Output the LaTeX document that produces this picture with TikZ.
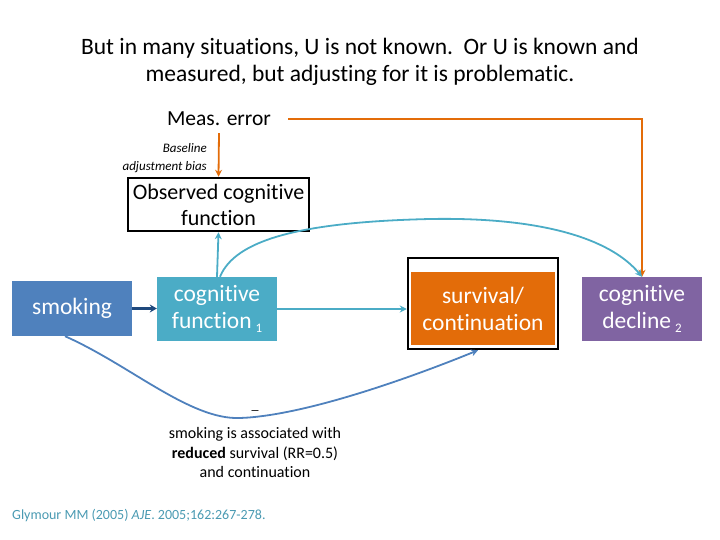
\documentclass[tikz,border=0pt]{standalone}
\usepackage{fontspec}
\setmainfont{Carlito}[Ligatures=NoCommon]
\usetikzlibrary{arrows.meta}
\definecolor{smokeblue}{HTML}{4F81BD}
\definecolor{teal1}{HTML}{4BACC6}
\definecolor{orng}{HTML}{E36C09}
\definecolor{purp}{HTML}{8064A2}
\definecolor{darkblue}{HTML}{1F497D}
\definecolor{cite}{HTML}{4A9AB2}
\tikzset{
  fillbox/.style={text=white, inner sep=0pt, align=center, font=\fontsize{23.5}{27}\selectfont},
  tip/.style={-{Stealth[length=7pt,width=7pt]}},
}
\begin{document}
\begin{tikzpicture}[x=1pt,y=-1pt]
\useasboundingbox (0,0) rectangle (720,540);
\node[align=center, font=\fontsize{23.5}{27}\selectfont] (title) at (360,62) {But in many situations, U is not known.\ \ Or U is known and\\ measured, but adjusting for it is problematic.};
\node[font=\fontsize{21.5}{22}\selectfont, inner sep=1pt] (meas) at (219,119) {Meas. error};
\node[font=\itshape\fontsize{13}{18}\selectfont, align=right, anchor=east, inner sep=0pt] (bias) at (207,158) {Baseline\\adjustment bias};
\node[draw=black, line width=2.5pt, minimum width=181pt, minimum height=53pt, align=center, inner sep=0pt, font=\fontsize{22}{26}\selectfont] (obs) at (218.5,204.5) {Observed cognitive\\function};
\node[fillbox, fill=smokeblue, minimum width=120pt, minimum height=55pt] (smoke) at (72,308.5) {\raisebox{-2pt}{smoking}};
\node[fillbox, fill=teal1, minimum width=120pt, minimum height=64pt] (cog) at (217,309) {cognitive\\function\,{\fontsize{13}{13}\selectfont\raisebox{-4pt}{1}}};
\node[draw=black, line width=2.5pt, minimum width=150pt, minimum height=91pt, inner sep=0pt] (frame) at (483,303.5) {};
\node[fillbox, fill=orng, minimum width=144pt, minimum height=73pt] (surv) at (483,308.5) {survival/\\continuation};
\node[fillbox, fill=purp, minimum width=120pt, minimum height=64pt] (dec) at (642,309) {cognitive\\decline\,{\fontsize{13}{13}\selectfont\raisebox{-4pt}{2}}};
\node[font=\fontsize{16}{19.5}\selectfont, align=center] (note) at (255,453) {smoking is associated with\\\textbf{reduced} survival (RR=0.5)\\and continuation};
\node[font=\fontsize{14}{14}\selectfont] (minus) at (255,410) {\_};
\node[font=\fontsize{14}{14}\selectfont, text=cite, anchor=west, inner sep=0pt] (ref) at (12,516) {Glymour MM (2005) \textit{AJE}. 2005;162:267-278.};
\coordinate (corner) at (642,119);
% orange arrows
\draw[orng, line width=1.8pt, tip] ([xshift=16pt]meas.east) -- (corner) -- (dec.north);
\draw[orng, line width=1.8pt, tip] (meas.south) ++(0,6) -- (obs.north);
% smoking -> cognitive
\draw[darkblue, line width=2.5pt, -{Stealth[length=7pt,width=8pt]}] (smoke.east) -- (cog.west |- smoke.east);
% cog -> observed
\draw[teal1, line width=1.8pt, tip] (cog.north) -- (obs.south);
% cog -> survival
\draw[teal1, line width=1.8pt, tip] (cog.east) -- (frame.west |- cog.east);
% cog -> decline curve
\draw[teal1, line width=1.8pt, tip] ([xshift=3pt]cog.north) .. controls (235,240) and (300,222) .. (430,219) .. controls (540,217) and (610,238) .. (dec.north);
% smoking -> survival curve
\coordinate (low) at (240,418);
\draw[smokeblue, line width=1.8pt, tip] ([xshift=-7pt]smoke.south) .. controls (130,365) and (190,420) .. (low) .. controls (300,416) and (400,382) .. ([xshift=-5pt]frame.south);
\end{tikzpicture}
\end{document}
